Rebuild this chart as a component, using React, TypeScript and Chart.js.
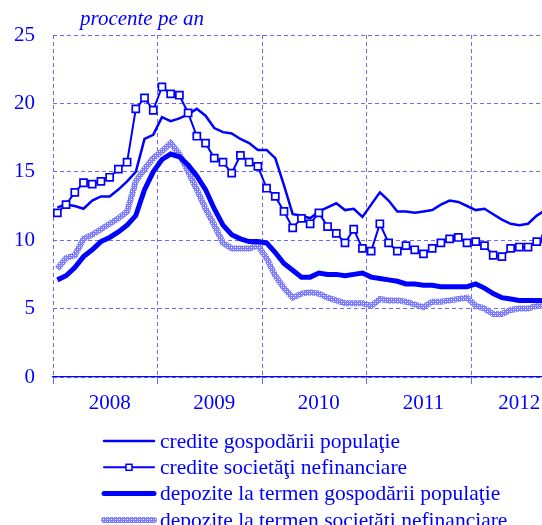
import React, { useEffect, useRef } from 'react';
import { Chart, registerables } from 'chart.js';

Chart.register(...registerables);

const years = ['2008', '2009', '2010', '2011', '2012'];
// where each year label sits on the month axis (last one pulled in to stay inside the picture)
const yearLabelAt = [6.5, 18.5, 30.5, 42.5, 53.5];
const unitLabel = 'procente pe an';
const seriesLabels = [
  'credite gospodării populaţie',
  'credite societăţi nefinanciare',
  'depozite la termen gospodării populaţie',
  'depozite la termen societăţi nefinanciare',
];

// monthly values, Jan 2008 onward
const creditePopulatie = [
  12.4, 12.6, 12.5, 12.3, 12.9, 13.2, 13.2, 13.7, 14.3, 15.0, 17.4, 17.7,
  19.0, 18.7, 18.9, 19.2, 19.6, 19.1, 18.2, 17.9, 17.8, 17.4, 17.1, 16.6,
  16.6, 16.0, 14.0, 11.9, 11.8, 11.6, 12.1, 12.4, 12.7, 12.2, 12.3, 11.7,
  12.6, 13.5, 12.9, 12.1, 12.1, 12.0, 12.1, 12.2, 12.6, 12.9, 12.8, 12.5,
  12.2, 12.3, 11.9, 11.5, 11.2, 11.1, 11.2, 11.8, 12.2,
];
const crediteSocietati = [
  12.0, 12.6, 13.5, 14.2, 14.1, 14.3, 14.6, 15.2, 15.7, 19.6, 20.4, 19.5,
  21.2, 20.7, 20.6, 19.3, 17.6, 17.1, 16.0, 15.7, 14.9, 16.2, 15.7, 15.4,
  13.8, 13.2, 12.1, 10.9, 11.6, 11.2, 12.0, 11.0, 10.5, 9.8, 10.8, 9.4,
  9.2, 11.2, 9.8, 9.2, 9.6, 9.3, 9.0, 9.4, 9.8, 10.1, 10.2, 9.8,
  9.9, 9.6, 8.9, 8.8, 9.4, 9.5, 9.5, 9.9, 10.1,
];
const depozitePopulatie = [
  7.1, 7.4, 8.0, 8.8, 9.3, 9.9, 10.2, 10.6, 11.1, 11.8, 13.7, 15.0,
  15.9, 16.3, 16.1, 15.5, 14.7, 13.7, 12.3, 11.1, 10.4, 10.1, 9.9, 9.9,
  9.8, 9.1, 8.3, 7.8, 7.3, 7.3, 7.6, 7.5, 7.5, 7.4, 7.5, 7.6,
  7.3, 7.2, 7.1, 7.0, 6.8, 6.8, 6.7, 6.7, 6.6, 6.6, 6.6, 6.6,
  6.8, 6.5, 6.1, 5.8, 5.7, 5.6, 5.6, 5.6, 5.6,
];
const depoziteSocietati = [
  7.9, 8.7, 8.9, 10.1, 10.4, 10.8, 11.2, 11.6, 12.1, 14.3, 15.2, 16.0,
  16.5, 17.1, 16.3, 15.0, 13.7, 12.3, 11.1, 9.8, 9.4, 9.4, 9.4, 9.6,
  8.7, 7.4, 6.5, 5.8, 6.1, 6.2, 6.1, 5.8, 5.6, 5.4, 5.4, 5.4,
  5.2, 5.7, 5.6, 5.6, 5.5, 5.3, 5.1, 5.5, 5.5, 5.6, 5.7, 5.8,
  5.2, 5.0, 4.6, 4.6, 4.9, 5.0, 5.0, 5.2, 5.2,
];

const BLUE = '#0000ff';
const GRID = '#6a6aff';
const FONT = '"Liberation Serif", "Times New Roman", serif';

const toPoints = (arr: number[]) => arr.map((v, i) => ({ x: i + 0.5, y: v }));

export default function App() {
  const ref = useRef<HTMLCanvasElement | null>(null);

  useEffect(() => {
    const canvas = ref.current;
    if (!canvas) return;
    const ctx = canvas.getContext('2d')!;

    const pc = document.createElement('canvas');
    pc.width = 4;
    pc.height = 4;
    const p = pc.getContext('2d')!;
    p.fillStyle = '#7a7aff';
    p.fillRect(0, 0, 4, 4);
    p.fillStyle = '#ffffff';
    p.fillRect(1, 1, 1, 1);
    p.fillRect(3, 3, 1, 1);
    p.fillStyle = '#b0b0ff';
    p.fillRect(3, 1, 1, 1);
    p.fillRect(1, 3, 1, 1);
    const pattern = ctx.createPattern(pc, 'repeat')!;

    const legendPlugin = {
      id: 'customLegend',
      afterDraw(chart: any) {
        const c = chart.ctx as CanvasRenderingContext2D;
        c.save();
        c.fillStyle = BLUE;
        c.font = `italic 21px ${FONT}`;
        c.textBaseline = 'alphabetic';
        c.textAlign = 'left';
        c.fillText(unitLabel, 80, 25);
        c.font = `21.5px ${FONT}`;
        c.textBaseline = 'middle';
        chart.data.datasets.forEach((ds: any, i: number) => {
          const y = 441 + i * 26.3;
          c.save();
          c.strokeStyle = ds.borderColor;
          c.lineWidth = ds.borderWidth;
          c.lineCap = 'round';
          c.beginPath();
          c.moveTo(104, y);
          c.lineTo(154, y);
          c.stroke();
          if (ds.pointRadius > 0) {
            c.fillStyle = '#ffffff';
            c.strokeStyle = BLUE;
            c.lineWidth = 1.5;
            c.fillRect(126, y - 3, 6, 6);
            c.strokeRect(126, y - 3, 6, 6);
          }
          c.restore();
          c.fillStyle = BLUE;
          c.fillText(ds.label, 160, y + 1);
        });
        c.restore();
      },
    };

    const isBoundary = (v: number) => Math.abs(v % 12) < 1e-9;

    const chart = new Chart(canvas, {
      type: 'line',
      data: {
        datasets: [
          {
            label: seriesLabels[0],
            data: toPoints(creditePopulatie),
            borderColor: BLUE,
            borderWidth: 2.5,
            pointRadius: 0,
            order: 2,
          },
          {
            label: seriesLabels[1],
            data: toPoints(crediteSocietati),
            borderColor: BLUE,
            borderWidth: 2,
            pointRadius: 5,
            pointStyle: 'rect',
            pointBackgroundColor: '#ffffff',
            pointBorderColor: BLUE,
            pointBorderWidth: 1.7,
            order: 1,
          },
          {
            label: seriesLabels[2],
            data: toPoints(depozitePopulatie),
            borderColor: BLUE,
            borderWidth: 5,
            pointRadius: 0,
            order: 3,
          },
          {
            label: seriesLabels[3],
            data: toPoints(depoziteSocietati),
            borderColor: pattern as any,
            borderWidth: 6,
            pointRadius: 0,
            order: 4,
          },
        ] as any,
      },
      options: {
        responsive: false,
        animation: false,
        events: [],
        layout: { padding: { top: 35, bottom: 108, left: 0, right: 0 } },
        plugins: {
          legend: { display: false },
          tooltip: { enabled: false },
          title: { display: false },
        },
        scales: {
          x: {
            type: 'linear',
            min: 0,
            max: 60,
            afterBuildTicks: (scale: any) => {
              const vals: number[] = [];
              for (let v = 0; v <= years.length * 12; v += 12) vals.push(v);
              yearLabelAt.forEach((v) => vals.push(v));
              vals.sort((a, b) => a - b);
              scale.ticks = vals.map((v) => ({ value: v }));
            },
            afterFit: (scale: any) => {
              scale.height = 40;
            },
            ticks: {
              autoSkip: false,
              maxRotation: 0,
              minRotation: 0,
              padding: 7,
              color: BLUE,
              font: { family: FONT, size: 21 },
              callback: (value: any) => {
                const idx = yearLabelAt.indexOf(Number(value));
                return idx >= 0 ? years[idx] : '';
              },
            },
            grid: {
              color: (c: any) => (c.tick && isBoundary(c.tick.value) ? GRID : 'rgba(0,0,0,0)'),
              tickColor: (c: any) => (c.tick && isBoundary(c.tick.value) ? GRID : 'rgba(0,0,0,0)'),
              lineWidth: 1,
              tickLength: 7,
            },
            border: { display: true, color: BLUE, width: 1.2, dash: [4, 3] },
          },
          y: {
            min: 0,
            max: 25,
            afterFit: (scale: any) => {
              scale.width = 53;
            },
            ticks: {
              stepSize: 5,
              padding: 18,
              color: BLUE,
              font: { family: FONT, size: 21 },
            },
            grid: {
              color: GRID,
              lineWidth: 1,
              drawTicks: false,
            },
            border: { display: false, dash: [4, 3] },
          },
        },
      } as any,
      plugins: [legendPlugin],
    });

    return () => chart.destroy();
  }, []);

  return (
    <div
      style={{
        position: 'fixed',
        left: 0,
        top: 0,
        width: 542,
        height: 525,
        overflow: 'hidden',
        background: '#ffffff',
      }}
    >
      <canvas ref={ref} width={583} height={525} style={{ display: 'block' }} />
    </div>
  );
}
